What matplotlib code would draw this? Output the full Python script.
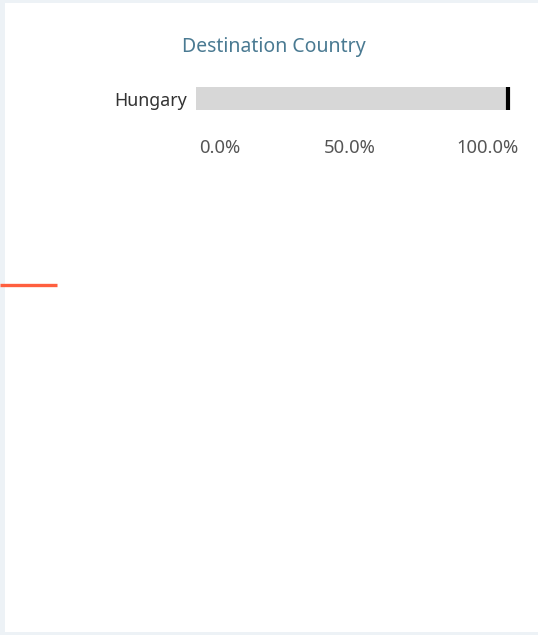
import matplotlib
matplotlib.use("Agg")
import matplotlib.pyplot as plt
from matplotlib.patches import Rectangle
from matplotlib.lines import Line2D
import matplotlib.transforms as mtransforms

# Data
categories = ["Hungary"]
values = [1.0]           # share of total (100%)
reference = [1.0]        # reference marker at 100%
tick_values = [0.0, 0.5, 1.0]
tick_labels = ["0.0%", "50.0%", "100.0%"]
title = "Destination Country"

W, H = 538, 635
fig = plt.figure(figsize=(W / 100, H / 100), dpi=100)
fig.patch.set_facecolor("#edf2f6")

# white dashboard panel
fig.patches.append(Rectangle((5 / W, 3 / H), (W - 5) / W, (632 - 3) / H,
                             transform=fig.transFigure, facecolor="white",
                             edgecolor="none", zorder=-10))

# orange fragment line at the left edge
fig.add_artist(Line2D([0, 57 / W], [1 - 284.5 / H, 1 - 284.5 / H],
                      transform=fig.transFigure, color="#ff5f3f", lw=2.4,
                      solid_capstyle="butt", zorder=5))

font = "Noto Sans"

# axes: x 0..1 maps to 196..508 px; y spans bar area
ax_left, ax_right = 196, 508
ax_top, ax_bot = 87, 110
ax = fig.add_axes([ax_left / W, 1 - ax_bot / H, (ax_right - ax_left) / W,
                   (ax_bot - ax_top) / H])
ax.set_zorder(2)
ax.set_facecolor("none")
ax.set_xlim(0, 1)
ax.set_ylim(-0.5, 0.5)
ax.invert_yaxis()
for s in ax.spines.values():
    s.set_visible(False)

ypos = list(range(len(categories)))
ax.barh(ypos, values, height=1.0, color="#d7d7d7", edgecolor="none")
for y, r in zip(ypos, reference):
    ax.plot([r, r], [y - 0.52, y + 0.52], color="black", lw=3.0,
            solid_capstyle="butt", clip_on=False)

ax.set_yticks(ypos)
ax.set_yticklabels(categories, fontsize=12.8, color="#333333", family=font)
ax.tick_params(axis="y", length=0, pad=6.5)

ax.set_xticks(tick_values)
ax.set_xticklabels(tick_labels, fontsize=13.3, color="#555555", family=font)
ax.tick_params(axis="x", length=0, pad=21)
offsets = [24, -2, -21]
for lab, dx in zip(ax.get_xticklabels(), offsets):
    lab.set_transform(lab.get_transform() +
                      mtransforms.ScaledTranslation(dx / 100, 0, fig.dpi_scale_trans))

fig.text(274 / W, 1 - 47 / H, title, ha="center", va="center",
         fontsize=14, color="#4a7a92", family=font)

fig.savefig("out.png", dpi=100, facecolor=fig.get_facecolor())
